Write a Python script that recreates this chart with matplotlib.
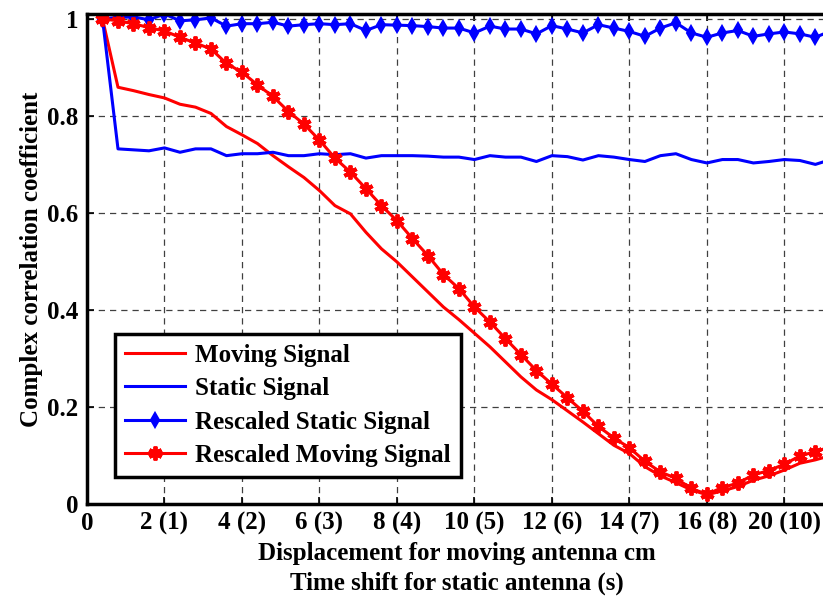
import matplotlib.pyplot as plt
import numpy as np

# x-axis: steps of 0.2 tick units (one tick = 2 cm / 1 s)
x = np.arange(1, 49) * 0.2

moving = [1.0, 0.859, 0.852, 0.844, 0.837, 0.824, 0.818, 0.805, 0.778, 0.761,
          0.743, 0.718, 0.695, 0.673, 0.646, 0.615, 0.598, 0.560, 0.526, 0.499,
          0.468, 0.437, 0.406, 0.380, 0.352, 0.324, 0.293, 0.262, 0.235, 0.215,
          0.192, 0.169, 0.145, 0.121, 0.104, 0.077, 0.058, 0.044, 0.029, 0.019,
          0.027, 0.036, 0.049, 0.058, 0.070, 0.084, 0.091, 0.100]

static = [1.0, 0.732, 0.730, 0.728, 0.734, 0.725, 0.732, 0.732, 0.718, 0.722,
          0.722, 0.725, 0.718, 0.718, 0.722, 0.720, 0.722, 0.713, 0.718, 0.718,
          0.718, 0.717, 0.715, 0.715, 0.710, 0.718, 0.715, 0.715, 0.706, 0.718,
          0.716, 0.709, 0.718, 0.715, 0.710, 0.706, 0.718, 0.722, 0.710, 0.703,
          0.710, 0.710, 0.703, 0.706, 0.710, 0.708, 0.700, 0.710]

resc_static = [1.0, 1.003, 1.004, 0.998, 1.01, 0.996, 0.998, 1.002, 0.985, 0.990,
               0.990, 0.993, 0.985, 0.988, 0.990, 0.988, 0.990, 0.976, 0.988, 0.987,
               0.986, 0.984, 0.981, 0.981, 0.971, 0.985, 0.979, 0.979, 0.969, 0.986,
               0.979, 0.971, 0.988, 0.981, 0.974, 0.964, 0.981, 0.992, 0.971, 0.962,
               0.971, 0.976, 0.964, 0.969, 0.973, 0.969, 0.962, 0.975]

resc_moving = [1.0, 0.996, 0.990, 0.982, 0.975, 0.962, 0.950, 0.938, 0.908, 0.890,
               0.864, 0.840, 0.809, 0.783, 0.750, 0.713, 0.684, 0.650, 0.615, 0.584,
               0.547, 0.512, 0.473, 0.444, 0.406, 0.375, 0.341, 0.308, 0.275, 0.247,
               0.219, 0.191, 0.160, 0.136, 0.116, 0.088, 0.066, 0.053, 0.032, 0.020,
               0.034, 0.043, 0.060, 0.069, 0.082, 0.099, 0.108, 0.118]

xtick_labels = ['0', '2 (1)', '4 (2)', '6 (3)', '8 (4)', '10 (5)', '12 (6)',
                '14 (7)', '16 (8)', '20 (10)']
ytick_labels = ['0', '0.2', '0.4', '0.6', '0.8', '1']

plt.rcParams['font.family'] = 'Liberation Serif'
plt.rcParams['font.weight'] = 'bold'
plt.rcParams['axes.labelweight'] = 'bold'
plt.rcParams['font.size'] = 18

fig = plt.figure(figsize=(8.23, 5.97), dpi=100)
ax = fig.add_axes([87/823, 93/597, 740/823, 490/597])

ax.plot(x, moving, color='red', lw=2.2, label='Moving Signal')
ax.plot(x, static, color='blue', lw=2.2, label='Static Signal')
ax.plot(x, resc_static, color='blue', lw=2.2, marker='d', ms=7, mew=1.5,
        label='Rescaled Static Signal')
ax.plot(x, resc_moving, color='red', lw=2.2, marker=(6, 2, 0), ms=10, mew=2.8,
        label='Rescaled Moving Signal')

ax.set_xlim(0, 9.55)
ax.set_ylim(0, 1.01)
ax.set_xticks(range(10))
ax.set_xticklabels(xtick_labels)
ax.set_yticks([0, 0.2, 0.4, 0.6, 0.8, 1.0])
ax.set_yticklabels(ytick_labels)
ax.tick_params(direction='in', top=True, length=5, width=1.2, pad=6)
ax.grid(True, linestyle=(0, (5, 4)), color='#404040', linewidth=0.9)
for s in ['left', 'bottom', 'top']:
    ax.spines[s].set_linewidth(2.5)
ax.spines['right'].set_visible(False)

ax.set_xlabel('Displacement for moving antenna cm\nTime shift for static antenna (s)',
              labelpad=5, linespacing=1.35)
ax.set_ylabel('Complex correlation coefficient', labelpad=3)

leg = ax.legend(loc='lower left', bbox_to_anchor=(0.038, 0.055), fancybox=False,
                edgecolor='black', framealpha=1, handlelength=2.4,
                handletextpad=0.4, labelspacing=0.42, borderpad=0.4,
                borderaxespad=0)
leg.get_frame().set_linewidth(2.5)

fig.savefig('out.png', dpi=100)
